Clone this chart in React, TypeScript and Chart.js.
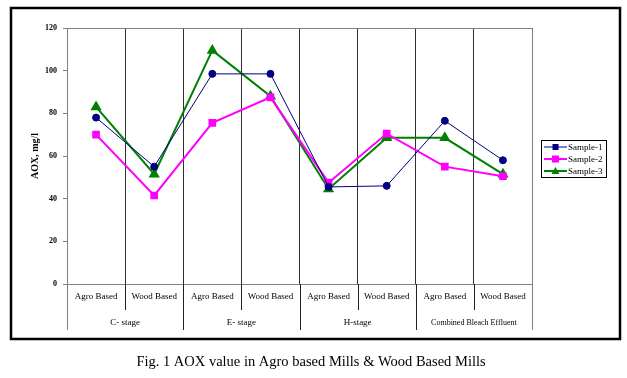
import React, { useEffect, useRef } from "react";
import { Chart, registerables } from "chart.js";

Chart.register(...registerables);

const categories = ["Agro Based", "Wood Based", "Agro Based", "Wood Based", "Agro Based", "Wood Based", "Agro Based", "Wood Based"];
const groups = ["C- stage", "E- stage", "H-stage", "Combined Bleach Effluent"];
const sample1 = [78, 55, 98.5, 98.5, 45.5, 46, 76.5, 58];
const sample2 = [70, 41.5, 75.5, 87.5, 47.5, 70.5, 55, 50.5];
const sample3 = [83, 51.5, 109.5, 88, 44.5, 68.5, 68.5, 51.5];
const seriesNames = ["Sample-1", "Sample-2", "Sample-3"];
const yTitle = "AOX, mg/l";
const caption = "Fig. 1 AOX value in Agro based Mills & Wood Based Mills";

const SERIF = "'Liberation Serif', 'DejaVu Serif', serif";

const decorPlugin = {
  id: "decor",
  beforeDraw(chart: any) {
    const ctx = chart.ctx;
    ctx.save();
    ctx.fillStyle = "#fff";
    ctx.fillRect(0, 0, chart.width, chart.height);
    ctx.restore();
  },
  afterDraw(chart: any) {
    const ctx = chart.ctx;
    const ca = chart.chartArea;
    const n = categories.length;
    const w = (ca.right - ca.left) / n;
    ctx.save();
    // plot top/right border
    ctx.strokeStyle = "#808080";
    ctx.lineWidth = 1;
    ctx.beginPath();
    ctx.moveTo(ca.left, ca.top + 0.5);
    ctx.lineTo(ca.right + 0.5, ca.top + 0.5);
    ctx.lineTo(ca.right + 0.5, ca.bottom);
    ctx.stroke();
    // separators below axis
    for (let i = 0; i <= n; i++) {
      const x = Math.round(ca.left + i * w) + 0.5;
      const isGroup = i % 2 === 0;
      ctx.strokeStyle = i === 0 || i === n ? "#808080" : "#202020";
      ctx.beginPath();
      ctx.moveTo(x, ca.bottom);
      ctx.lineTo(x, ca.bottom + (isGroup ? 46 : 26));
      ctx.stroke();
    }
    // category labels
    ctx.fillStyle = "#000";
    ctx.textAlign = "center";
    ctx.textBaseline = "middle";
    ctx.font = `9px ${SERIF}`;
    for (let i = 0; i < n; i++) {
      ctx.fillText(categories[i], ca.left + (i + 0.5) * w, ca.bottom + 13);
    }
    for (let g = 0; g < groups.length; g++) {
      ctx.font = g === 3 ? `8px ${SERIF}` : `9px ${SERIF}`;
      ctx.fillText(groups[g], ca.left + (2 * g + 1) * w, ca.bottom + 39);
    }
    // y title
    ctx.save();
    ctx.translate(35, (ca.top + ca.bottom) / 2);
    ctx.rotate(-Math.PI / 2);
    ctx.font = `bold 10px ${SERIF}`;
    ctx.fillText(yTitle, 0, 0);
    ctx.restore();
    // legend
    const lx = 541, ly = 140, lw = 65, lh = 37;
    ctx.fillStyle = "#fff";
    ctx.fillRect(lx, ly, lw, lh);
    ctx.strokeStyle = "#000";
    ctx.lineWidth = 1;
    ctx.strokeRect(lx + 0.5, ly + 0.5, lw, lh);
    chart.data.datasets.forEach((ds: any, i: number) => {
      const y = ly + 7 + i * 12;
      ctx.strokeStyle = ds.borderColor;
      ctx.lineWidth = ds.borderWidth;
      ctx.beginPath();
      ctx.moveTo(lx + 3, y);
      ctx.lineTo(lx + 26, y);
      ctx.stroke();
      ctx.fillStyle = ds.borderColor;
      const cx = lx + 14.5;
      if (ds.pointStyle === "rect") {
        ctx.fillRect(cx - 3.5, y - 3.5, 7, 7);
      } else if (ds.pointStyle === "triangle") {
        ctx.beginPath();
        ctx.moveTo(cx, y - 4);
        ctx.lineTo(cx + 4, y + 3);
        ctx.lineTo(cx - 4, y + 3);
        ctx.closePath();
        ctx.fill();
      } else {
        ctx.fillRect(cx - 3, y - 3, 6, 6);
      }
      ctx.fillStyle = "#000";
      ctx.textAlign = "left";
      ctx.font = `9px ${SERIF}`;
      ctx.fillText(ds.label, lx + 27, y + 0.5);
    });
    // outer frame
    ctx.strokeStyle = "#000";
    ctx.lineWidth = 2.5;
    ctx.strokeRect(11, 8, 609, 331);
    // caption
    ctx.fillStyle = "#000";
    ctx.textAlign = "center";
    ctx.font = `14.5px ${SERIF}`;
    ctx.fillText(caption, 311, 362);
    ctx.restore();
  },
};

export default function App() {
  const ref = useRef<HTMLCanvasElement>(null);
  useEffect(() => {
    if (!ref.current) return;
    const chart = new Chart(ref.current, {
      type: "line",
      data: {
        labels: categories,
        datasets: [
          {
            label: seriesNames[0],
            data: sample1,
            borderColor: "#000080",
            backgroundColor: "#000080",
            borderWidth: 1,
            pointStyle: "circle",
            pointRadius: 3.5,
            tension: 0,
          },
          {
            label: seriesNames[1],
            data: sample2,
            borderColor: "#FF00FF",
            backgroundColor: "#FF00FF",
            borderWidth: 2,
            pointStyle: "rect",
            pointRadius: 4,
            tension: 0,
          },
          {
            label: seriesNames[2],
            data: sample3,
            borderColor: "#008000",
            backgroundColor: "#008000",
            borderWidth: 2,
            pointStyle: "triangle",
            pointRadius: 4.5,
            tension: 0,
          },
        ] as any,
      },
      plugins: [decorPlugin],
      options: {
        animation: false,
        responsive: false,
        layout: { padding: { left: 0, top: 28, right: 95, bottom: 0 } },
        plugins: { legend: { display: false }, tooltip: { enabled: false } },
        scales: {
          x: {
            type: "category",
            offset: true,
            grid: { offset: true, color: "#303030", drawTicks: false, lineWidth: 1 },
            border: { color: "#808080" },
            ticks: { display: false },
            afterFit: (s: any) => { s.height = 94; },
          },
          y: {
            min: 0,
            max: 120,
            ticks: { stepSize: 20, color: "#000", font: { family: SERIF, size: 8, weight: "bold" }, padding: 6 },
            grid: { drawOnChartArea: false, drawTicks: true, tickLength: 4, color: "#808080" },
            border: { color: "#808080" },
            afterFit: (s: any) => { s.width = 67; },
          },
        },
      } as any,
    });
    return () => chart.destroy();
  }, []);
  return (
    <div style={{ position: "absolute", left: 0, top: 0, width: 627, height: 378 }}>
      <canvas ref={ref} width={627} height={378} />
    </div>
  );
}
